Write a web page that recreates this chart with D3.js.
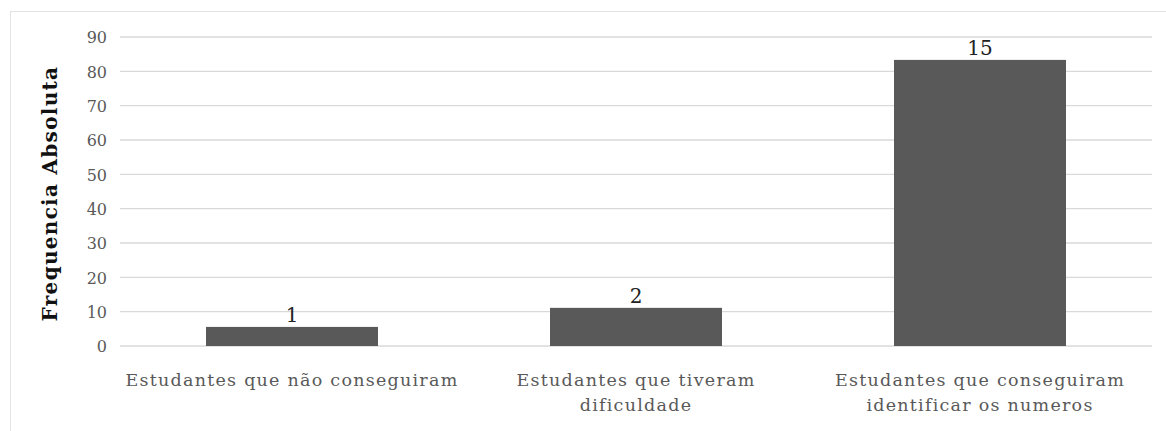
<!DOCTYPE html>
<html>
<head>
<meta charset="utf-8">
<script src="https://cdn.jsdelivr.net/npm/d3@7"></script>
<style>
  body { margin: 0; background: #fff; }
  svg text { font-family: "DejaVu Serif", "Liberation Serif", serif; }
</style>
</head>
<body>
<div id="chart"></div>
<script>
const categories = [
  ["Estudantes que não conseguiram"],
  ["Estudantes que tiveram", "dificuldade"],
  ["Estudantes que conseguiram", "identificar os numeros"]
];
const counts = [1, 2, 15];
const heights = [5.56, 11.11, 83.33];
const yTicks = [0, 10, 20, 30, 40, 50, 60, 70, 80, 90];

const width = 1166, height = 431;
const margin = {top: 37, right: 14, bottom: 85, left: 120};

const svg = d3.select("#chart").append("svg")
  .attr("width", width)
  .attr("height", height);

// frame
svg.append("rect")
  .attr("x", 10.5).attr("y", 11.5)
  .attr("width", width).attr("height", height)
  .attr("fill", "none")
  .attr("stroke", "#e3e3e3");

const x = d3.scaleBand()
  .domain(d3.range(categories.length))
  .range([margin.left, width - margin.right])
  .paddingInner(0.5)
  .paddingOuter(0.25);

const y = d3.scaleLinear()
  .domain([0, 90])
  .range([height - margin.bottom, margin.top]);

// grid
svg.append("g")
  .selectAll("line")
  .data(yTicks)
  .enter()
  .append("line")
  .attr("x1", margin.left)
  .attr("x2", width - margin.right)
  .attr("y1", d => y(d))
  .attr("y2", d => y(d))
  .attr("stroke", "#d9d9d9")
  .attr("stroke-width", 1.3);

// y axis labels
const yAxis = svg.append("g")
  .attr("transform", `translate(${margin.left},0)`)
  .call(d3.axisLeft(y).tickValues(yTicks).tickSize(0).tickPadding(13));
yAxis.select(".domain").remove();
yAxis.selectAll("text")
  .attr("fill", "#595959")
  .attr("dy", "0.36em")
  .style("font-size", "16px");

// bars
svg.append("g")
  .selectAll("rect")
  .data(heights)
  .enter()
  .append("rect")
  .attr("x", (d, i) => x(i))
  .attr("width", x.bandwidth())
  .attr("y", d => y(d))
  .attr("height", d => y(0) - y(d))
  .attr("fill", "#595959");

// value labels
svg.append("g")
  .selectAll("text")
  .data(heights)
  .enter()
  .append("text")
  .attr("x", (d, i) => x(i) + x.bandwidth() / 2)
  .attr("y", d => y(d) - 5)
  .attr("text-anchor", "middle")
  .attr("fill", "#222")
  .style("font-size", "20px")
  .text((d, i) => counts[i]);

// category labels
const cat = svg.append("g")
  .selectAll("text")
  .data(categories)
  .enter()
  .append("text")
  .attr("x", (d, i) => x(i) + x.bandwidth() / 2)
  .attr("y", y(0) + 40)
  .attr("text-anchor", "middle")
  .attr("fill", "#595959")
  .style("font-size", "17.5px")
  .style("letter-spacing", "1.25px");

cat.selectAll("tspan")
  .data(d => d)
  .enter()
  .append("tspan")
  .attr("x", function() { return this.parentNode.getAttribute("x"); })
  .attr("dy", (d, i) => i === 0 ? 0 : 25)
  .text(d => d);

// y title
svg.append("text")
  .attr("transform", `translate(57, ${(y(0) + y(90)) / 2 + 2}) rotate(-90)`)
  .attr("text-anchor", "middle")
  .attr("fill", "#111")
  .style("font-size", "20px")
  .style("letter-spacing", "1.3px")
  .style("font-weight", "bold")
  .text("Frequencia Absoluta");
</script>
</body>
</html>
